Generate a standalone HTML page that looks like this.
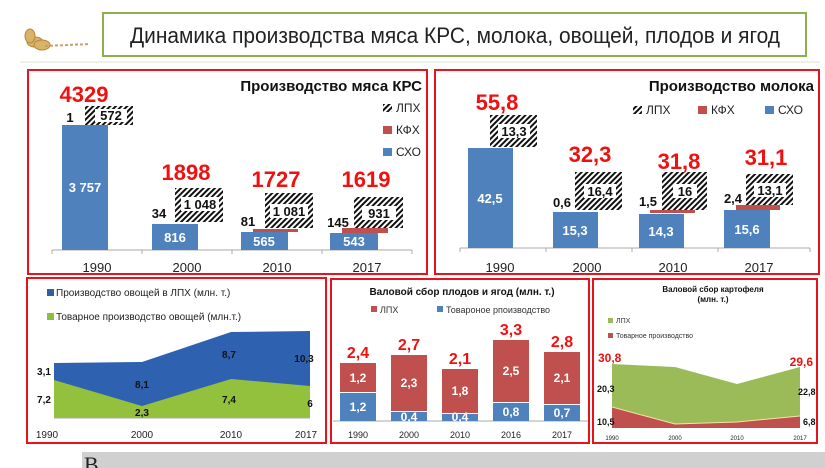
<!DOCTYPE html>
<html><head><meta charset="utf-8"><style>
html,body{margin:0;padding:0;background:#fff;}
svg{display:block;font-family:"Liberation Sans",sans-serif;}
</style></head><body>
<svg width="825" height="468" viewBox="0 0 825 468" xmlns="http://www.w3.org/2000/svg">
<defs>
<pattern id="h" width="4" height="4" patternUnits="userSpaceOnUse" patternTransform="rotate(45)">
<rect width="4" height="4" fill="#fff"/><rect width="2" height="4" fill="#111"/>
</pattern>
</defs>
<!-- header -->
<g fill="#d9b36a" stroke="#b8893a" stroke-width="1">
<ellipse cx="35" cy="42" rx="8" ry="5"/><ellipse cx="42" cy="45" rx="8" ry="5"/><ellipse cx="30" cy="36" rx="5" ry="7"/>
</g>
<line x1="45" y1="46" x2="90" y2="44" stroke="#c9a060" stroke-width="2" stroke-dasharray="3 2"/>
<rect x="103" y="13" width="703" height="43" fill="#fff" stroke="#8cb04f" stroke-width="2"/>
<text x="455" y="43" font-size="22" text-anchor="middle" fill="#222" textLength="650" lengthAdjust="spacingAndGlyphs">Динамика производства мяса КРС, молока, овощей, плодов и ягод</text>
<line x1="20" y1="62" x2="820" y2="62" stroke="#eef2e6" stroke-width="2"/>

<!-- Panel 1: meat -->
<rect x="28" y="70" width="399" height="204" fill="#fff" stroke="#e8141b" stroke-width="2"/>
<text x="422" y="91" font-size="15" font-weight="bold" text-anchor="end" fill="#111">Производство мяса КРС</text>
<rect x="383" y="104" width="9" height="8" fill="url(#h)"/><text x="396" y="112" font-size="12" fill="#222">ЛПХ</text>
<rect x="383" y="126" width="9" height="8" fill="#c0504d"/><text x="396" y="134" font-size="12" fill="#222">КФХ</text>
<rect x="383" y="148" width="9" height="8" fill="#4f81bd"/><text x="396" y="156" font-size="12" fill="#222">СХО</text>
<line x1="52" y1="250" x2="412" y2="250" stroke="#aaa"/>
<g stroke="#aaa"><line x1="52" y1="250" x2="52" y2="254"/><line x1="142" y1="250" x2="142" y2="254"/><line x1="232" y1="250" x2="232" y2="254"/><line x1="322" y1="250" x2="322" y2="254"/><line x1="412" y1="250" x2="412" y2="254"/></g>
<g font-size="13" fill="#222" text-anchor="middle"><text x="97" y="272">1990</text><text x="187" y="272">2000</text><text x="277" y="272">2010</text><text x="367" y="272">2017</text></g>
<rect x="62" y="125" width="46" height="125" fill="#4f81bd"/>
<rect x="85" y="106" width="48" height="19" fill="url(#h)"/><rect x="95" y="109" width="32" height="13" fill="#fff"/>
<rect x="152" y="224" width="46" height="26" fill="#4f81bd"/>
<rect x="175" y="188" width="48" height="34" fill="url(#h)"/><rect x="181" y="197" width="38" height="14" fill="#fff"/>
<rect x="241" y="232" width="47" height="18" fill="#4f81bd"/>
<rect x="253" y="229" width="45" height="3" fill="#c0504d"/>
<rect x="265" y="193" width="48" height="35" fill="url(#h)"/><rect x="270" y="204" width="38" height="14" fill="#fff"/>
<rect x="330" y="233" width="48" height="17" fill="#4f81bd"/>
<rect x="342" y="228" width="46" height="5" fill="#c0504d"/>
<rect x="354" y="197" width="49" height="31" fill="url(#h)"/><rect x="362" y="206" width="34" height="14" fill="#fff"/>
<g font-size="13" font-weight="bold" text-anchor="middle" fill="#111">
<text x="111" y="120">572</text><text x="200" y="209">1 048</text><text x="289" y="216">1 081</text><text x="379" y="218">931</text>
<text x="70" y="122">1</text><text x="159" y="218">34</text><text x="248" y="226">81</text><text x="338" y="227">145</text>
</g>
<g font-size="13" font-weight="bold" text-anchor="middle" fill="#fff">
<text x="85" y="192">3 757</text><text x="175" y="242">816</text><text x="264" y="246">565</text><text x="354" y="246">543</text>
</g>
<g font-size="22" font-weight="bold" text-anchor="middle" fill="#f01010">
<text x="84" y="102">4329</text><text x="186" y="180">1898</text><text x="276" y="187">1727</text><text x="366" y="187">1619</text>
</g>

<!-- Panel 2: milk -->
<rect x="435" y="70" width="384" height="204" fill="#fff" stroke="#e8141b" stroke-width="2"/>
<text x="814" y="91" font-size="15" font-weight="bold" text-anchor="end" fill="#111">Производство молока</text>
<rect x="633" y="106" width="9" height="8" fill="url(#h)"/><text x="646" y="114" font-size="12" fill="#222">ЛПХ</text>
<rect x="698" y="106" width="9" height="8" fill="#c0504d"/><text x="711" y="114" font-size="12" fill="#222">КФХ</text>
<rect x="765" y="106" width="9" height="8" fill="#4f81bd"/><text x="778" y="114" font-size="12" fill="#222">СХО</text>
<line x1="460" y1="248" x2="810" y2="248" stroke="#aaa"/>
<g stroke="#aaa"><line x1="460" y1="248" x2="460" y2="252"/><line x1="546" y1="248" x2="546" y2="252"/><line x1="632" y1="248" x2="632" y2="252"/><line x1="718" y1="248" x2="718" y2="252"/><line x1="810" y1="248" x2="810" y2="252"/></g>
<g font-size="13" fill="#222" text-anchor="middle"><text x="500" y="272">1990</text><text x="587" y="272">2000</text><text x="673" y="272">2010</text><text x="759" y="272">2017</text></g>
<rect x="468" y="148" width="45" height="100" fill="#4f81bd"/>
<rect x="490" y="115" width="47" height="32" fill="url(#h)"/><rect x="498" y="124" width="32" height="14" fill="#fff"/>
<rect x="553" y="212" width="45" height="36" fill="#4f81bd"/>
<rect x="575" y="172" width="47" height="38" fill="url(#h)"/><rect x="584" y="184" width="32" height="14" fill="#fff"/>
<rect x="639" y="214" width="45" height="34" fill="#4f81bd"/>
<rect x="650" y="210" width="45" height="3" fill="#c0504d"/>
<rect x="662" y="172" width="45" height="38" fill="url(#h)"/><rect x="673" y="184" width="24" height="14" fill="#fff"/>
<rect x="724" y="210" width="46" height="38" fill="#4f81bd"/>
<rect x="736" y="205" width="44" height="5" fill="#c0504d"/>
<rect x="746" y="174" width="47" height="31" fill="url(#h)"/><rect x="754" y="183" width="32" height="14" fill="#fff"/>
<g font-size="13" font-weight="bold" text-anchor="middle" fill="#111">
<text x="514" y="136">13,3</text><text x="600" y="196">16,4</text><text x="685" y="196">16</text><text x="770" y="195">13,1</text>
<text x="562" y="207">0,6</text><text x="648" y="206">1,5</text><text x="733" y="203">2,4</text>
</g>
<g font-size="13" font-weight="bold" text-anchor="middle" fill="#fff">
<text x="490" y="203">42,5</text><text x="575" y="235">15,3</text><text x="661" y="236">14,3</text><text x="747" y="234">15,6</text>
</g>
<g font-size="22" font-weight="bold" text-anchor="middle" fill="#f01010">
<text x="497" y="110">55,8</text><text x="590" y="162">32,3</text><text x="679" y="169">31,8</text><text x="766" y="165">31,1</text>
</g>

<!-- Panel 3: vegetables -->
<rect x="27" y="278" width="299" height="165" fill="#fff" stroke="#e8141b" stroke-width="2"/>
<rect x="47" y="289" width="7" height="7" fill="#2f5fa8"/><text x="56" y="296" font-size="10" fill="#222">Производство овощей в ЛПХ (млн. т.)</text>
<rect x="47" y="313" width="7" height="7" fill="#8cbf3f"/><text x="56" y="320" font-size="10" fill="#222">Товарное производство овощей (млн.т.)</text>
<polygon points="54,418 54,363 142,362 231,332 310,331 310,418" fill="#2e62b0"/>
<polygon points="54,418 54,380 142,406 231,379 310,386 310,418" fill="#93c13e"/>
<line x1="54" y1="418" x2="310" y2="418" stroke="#aaa"/>
<g font-size="10" font-weight="bold" fill="#111" text-anchor="middle">
<text x="44" y="375">3,1</text><text x="44" y="403">7,2</text><text x="142" y="388">8,1</text><text x="142" y="416">2,3</text>
<text x="229" y="358">8,7</text><text x="229" y="403">7,4</text><text x="304" y="362">10,3</text><text x="310" y="407">6</text>
</g>
<g font-size="10" fill="#222" text-anchor="middle"><text x="47" y="438">1990</text><text x="142" y="438">2000</text><text x="231" y="438">2010</text><text x="306" y="438">2017</text></g>

<!-- Panel 4: fruits -->
<rect x="331" y="279" width="258" height="164" fill="#fff" stroke="#e8141b" stroke-width="2"/>
<text x="462" y="295" font-size="10" font-weight="bold" text-anchor="middle" fill="#111">Валовой сбор плодов и ягод (млн. т.)</text>
<rect x="371" y="306" width="6" height="6" fill="#c0504d"/><text x="380" y="313" font-size="9" fill="#333">ЛПХ</text>
<rect x="437" y="306" width="6" height="6" fill="#4f81bd"/><text x="446" y="313" font-size="9" fill="#333">Товароное рпоизводство</text>
<line x1="333" y1="421" x2="588" y2="421" stroke="#aaa"/>
<g fill="#c0504d">
<rect x="340" y="363" width="36" height="29"/><rect x="391" y="355" width="36" height="56"/><rect x="442" y="369" width="36" height="44"/><rect x="493" y="340" width="36" height="62"/><rect x="544" y="352" width="36" height="52"/>
</g>
<g fill="#4f81bd">
<rect x="340" y="393" width="36" height="28"/><rect x="391" y="412" width="36" height="9"/><rect x="442" y="414" width="36" height="7"/><rect x="493" y="403" width="36" height="18"/><rect x="544" y="405" width="36" height="16"/>
</g>
<g font-size="12" font-weight="bold" fill="#fff" text-anchor="middle">
<text x="358" y="382">1,2</text><text x="409" y="387">2,3</text><text x="460" y="395">1,8</text><text x="511" y="375">2,5</text><text x="562" y="382">2,1</text>
<text x="358" y="411">1,2</text><text x="409" y="421">0,4</text><text x="460" y="421">0,4</text><text x="511" y="416">0,8</text><text x="562" y="417">0,7</text>
</g>
<g font-size="16" font-weight="bold" fill="#f01010" text-anchor="middle">
<text x="358" y="358">2,4</text><text x="409" y="350">2,7</text><text x="460" y="364">2,1</text><text x="511" y="335">3,3</text><text x="562" y="347">2,8</text>
</g>
<g font-size="9" fill="#222" text-anchor="middle"><text x="358" y="438">1990</text><text x="409" y="438">2000</text><text x="460" y="438">2010</text><text x="511" y="438">2016</text><text x="562" y="438">2017</text></g>

<!-- Panel 5: potato -->
<rect x="593" y="279" width="224" height="164" fill="#fff" stroke="#e8141b" stroke-width="2"/>
<text x="713" y="292" font-size="8" font-weight="bold" text-anchor="middle" fill="#111">Валовой сбор картофеля</text>
<text x="713" y="302" font-size="8" font-weight="bold" text-anchor="middle" fill="#111">(млн. т.)</text>
<rect x="608" y="318" width="5" height="5" fill="#9bbb59"/><text x="616" y="323" font-size="7" fill="#333">ЛПХ</text>
<rect x="608" y="333" width="5" height="5" fill="#c0504d"/><text x="616" y="338" font-size="7" fill="#333">Товарное производство</text>
<polygon points="612,428 612,364 675,367 737,384 800,367 800,428" fill="#9bbb59"/>
<polygon points="612,428 612,407 675,424 737,422 800,416 800,428" fill="#c0504d"/>
<polyline points="612,407 675,424 737,422 800,416" fill="none" stroke="#f6e3a8" stroke-width="1"/>
<g font-size="12" font-weight="bold" fill="#f01010"><text x="598" y="362">30,8</text><text x="792" y="366" text-anchor="end" dx="21">29,6</text></g>
<g font-size="9" font-weight="bold" fill="#111"><text x="597" y="392">20,3</text><text x="597" y="425">10,5</text><text x="798" y="395">22,8</text><text x="803" y="425">6,8</text></g>
<g font-size="6" fill="#222" text-anchor="middle"><text x="612" y="440">1990</text><text x="675" y="440">2000</text><text x="737" y="440">2010</text><text x="800" y="440">2017</text></g>

<!-- bottom band -->
<rect x="82" y="452" width="743" height="16" fill="#d0d0d0"/>
<text x="84" y="472" font-size="22" font-family="Liberation Serif,serif" fill="#222">В</text>
</svg>
</body></html>
